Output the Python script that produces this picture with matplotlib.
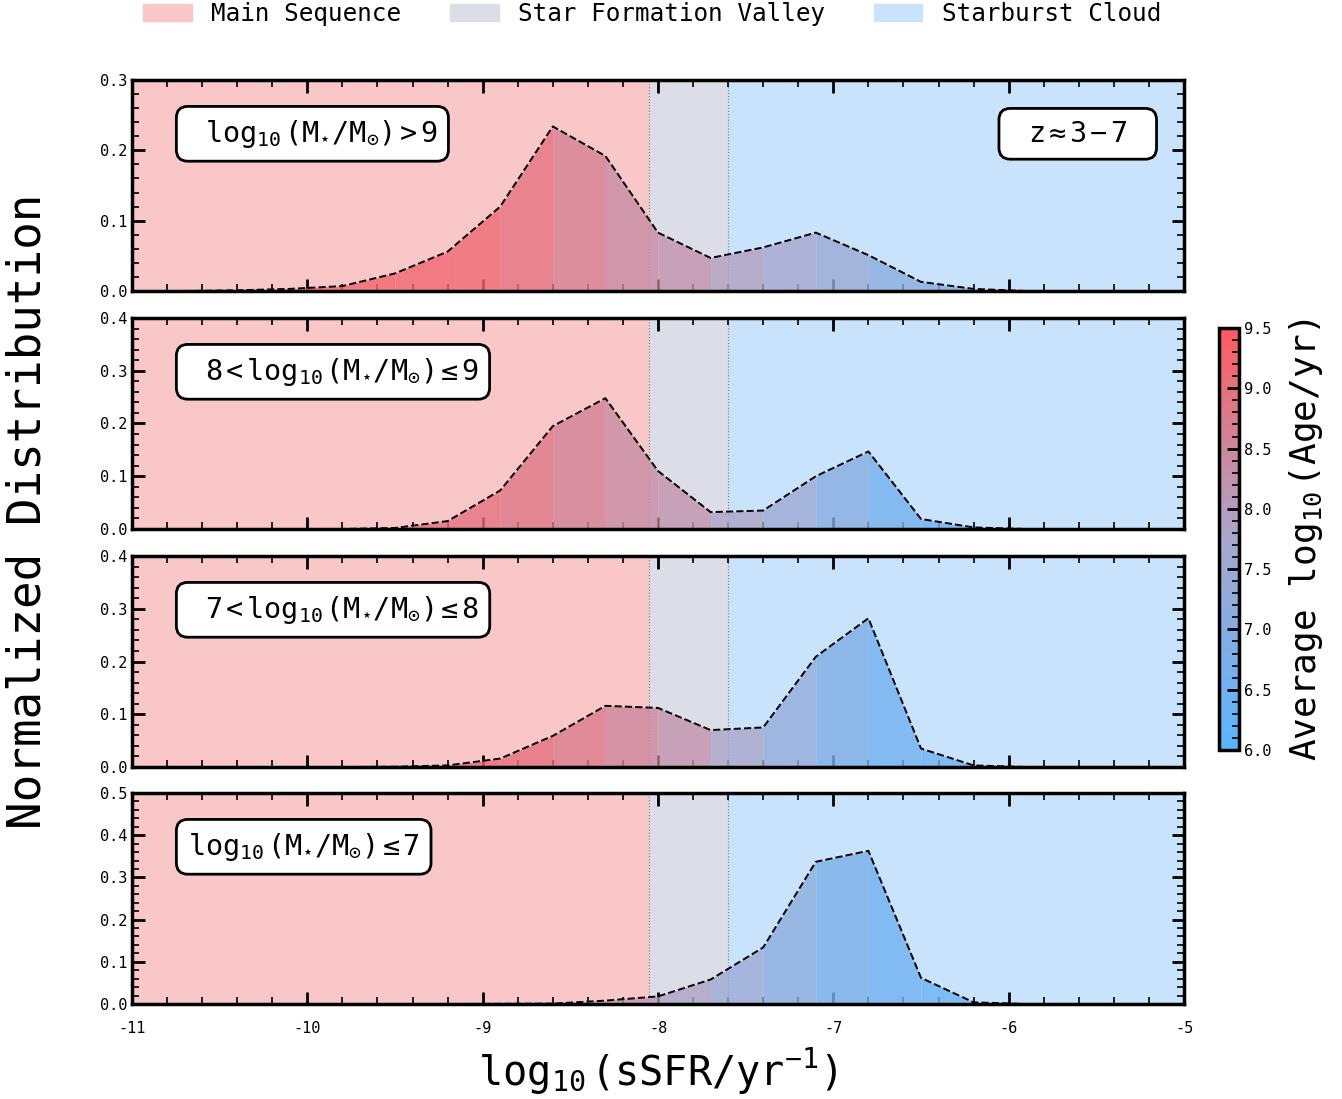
import numpy as np
import matplotlib
matplotlib.use("Agg")
import matplotlib.pyplot as plt
from matplotlib.colors import LinearSegmentedColormap, Normalize
from matplotlib.patches import Patch
from matplotlib.ticker import MultipleLocator

plt.rcParams['font.family'] = ['DejaVu Sans Mono', 'DejaVu Sans']
plt.rcParams['axes.unicode_minus'] = False
plt.rcParams['mathtext.fontset'] = 'custom'
plt.rcParams['mathtext.rm'] = 'DejaVu Sans Mono'
plt.rcParams['mathtext.it'] = 'DejaVu Sans Mono'
plt.rcParams['mathtext.bf'] = 'DejaVu Sans Mono:bold'

# bin centres of log10(sSFR)
ssfr = [-10.7, -10.4, -10.1, -9.8, -9.5, -9.2, -8.9, -8.6, -8.3, -8.0,
        -7.7, -7.4, -7.1, -6.8, -6.5, -6.2, -5.9, -5.6, -5.3, -5.0]

# normalized distributions, one per mass bin (top to bottom)
dist_hi = [0.0, 0.001, 0.003, 0.007, 0.025, 0.056, 0.120, 0.234, 0.192, 0.083,
           0.047, 0.062, 0.083, 0.051, 0.013, 0.003, 0.0, 0.0, 0.0, 0.0]
dist_89 = [0.0, 0.0, 0.0, 0.0, 0.002, 0.015, 0.073, 0.195, 0.248, 0.110,
           0.032, 0.035, 0.100, 0.147, 0.019, 0.003, 0.0, 0.0, 0.0, 0.0]
dist_78 = [0.0, 0.0, 0.0, 0.0, 0.0005, 0.003, 0.016, 0.059, 0.116, 0.112,
           0.070, 0.075, 0.209, 0.282, 0.035, 0.003, 0.0, 0.0, 0.0, 0.0]
dist_lo = [0.0, 0.0, 0.0, 0.0, 0.0, 0.0, 0.0005, 0.001, 0.008, 0.018,
           0.058, 0.134, 0.337, 0.363, 0.062, 0.004, 0.0, 0.0, 0.0, 0.0]

# average log10(age) of each segment between neighbouring bins
age_hi = [9.4, 9.4, 9.3, 9.25, 9.2, 9.15, 8.95, 8.65, 8.4, 8.25,
          7.95, 7.7, 7.45, 7.1, 6.9, 6.8, 6.8, 6.8, 6.8]
age_89 = [9.2, 9.2, 9.2, 9.2, 9.0, 8.95, 8.85, 8.6, 8.4, 8.25,
          7.85, 7.5, 7.05, 6.6, 6.5, 6.5, 6.5, 6.5, 6.5]
age_78 = [9.3, 9.3, 9.3, 9.3, 9.2, 9.15, 9.0, 8.75, 8.5, 8.25,
          7.8, 7.3, 6.85, 6.55, 6.4, 6.4, 6.4, 6.4, 6.4]
age_lo = [8.3, 8.3, 8.3, 8.3, 8.3, 8.3, 8.25, 8.2, 8.15, 7.85,
          7.5, 7.15, 6.75, 6.5, 6.4, 6.4, 6.4, 6.4, 6.4]

mass_labels = [r' $\log_{10}(M_{\star}/M_{\odot})>9$',
               r' $8<\log_{10}(M_{\star}/M_{\odot})\leq9$',
               r' $7<\log_{10}(M_{\star}/M_{\odot})\leq8$',
               r'$\log_{10}(M_{\star}/M_{\odot})\leq7$']
z_label = r'$z\approx3-7$'
ymax = [0.3, 0.4, 0.4, 0.5]

region_names = ['Main Sequence', 'Star Formation Valley', 'Starburst Cloud']
region_edges = [-11, -8.05, -7.6, -5]
region_colors = ['#F9C7C8', '#DDDDE7', '#CAE3FC']

cmap = LinearSegmentedColormap.from_list('age', ['#5AB4FF', '#A8A8CC', '#FF5A5F'])
norm = Normalize(6.0, 9.5)

dists = [dist_hi, dist_89, dist_78, dist_lo]
ages = [age_hi, age_89, age_78, age_lo]

fig = plt.figure(figsize=(13.42, 10.99), dpi=100)
left, width = 132 / 1342, 1052 / 1342
tops = [80, 318, 556, 793]
axes = []
for i in range(4):
    bottom = 1 - (tops[i] + 211) / 1099
    ax = fig.add_axes([left, bottom, width, 211 / 1099])
    axes.append(ax)

    for j in range(3):
        ax.axvspan(region_edges[j], region_edges[j + 1], color=region_colors[j], lw=0, zorder=0)
    for xv in region_edges[1:3]:
        ax.axvline(xv, color='gray', ls=':', lw=0.8, zorder=1)

    x = np.array(ssfr)
    y = np.array(dists[i])
    for k in range(len(x) - 1):
        ax.fill_between(x[k:k + 2], y[k:k + 2], 0, color=cmap(norm(ages[i][k])),
                        alpha=0.8, lw=0, zorder=2)
    ax.plot(x, y, color='k', ls='--', lw=1.4, zorder=3)

    ax.set_xlim(-11, -5)
    ax.set_ylim(0, ymax[i])
    ax.xaxis.set_major_locator(MultipleLocator(1))
    ax.xaxis.set_minor_locator(MultipleLocator(0.2))
    ax.yaxis.set_major_locator(MultipleLocator(0.1))
    ax.yaxis.set_minor_locator(MultipleLocator(0.02))
    ax.tick_params(which='both', direction='in', top=True, right=True, labelsize=11)
    ax.tick_params(which='major', length=9, width=2)
    ax.tick_params(which='minor', length=5, width=1.2)
    ax.tick_params(axis='x', pad=12)
    for s in ax.spines.values():
        s.set_linewidth(2.5)
    if i < 3:
        ax.tick_params(labelbottom=False)

    ax.text(0.053, 0.745, mass_labels[i], transform=ax.transAxes, fontsize=20.5,
            ha='left', va='center', zorder=5,
            bbox=dict(boxstyle='round,pad=0.4', fc='white', ec='black', lw=2))

# redshift box: an invisible wider string sizes the box, the label sits centred on it
axes[0].text(0.899, 0.745, 'x' + z_label + 'x', transform=axes[0].transAxes, fontsize=20.5,
             ha='center', va='center', zorder=5, color=(0, 0, 0, 0),
             bbox=dict(boxstyle='round,pad=0.4', fc='white', ec='black', lw=2))
axes[0].text(0.899, 0.745, z_label, transform=axes[0].transAxes, fontsize=20.5,
             ha='center', va='center', zorder=6)

axes[3].set_xlabel(r'$\log_{10}(\mathrm{sSFR/yr^{-1}})$', fontsize=29, labelpad=8)
fig.text(0.021, 0.535, 'Normalized Distribution', rotation=90, fontsize=33,
         ha='center', va='center')

handles = [Patch(color=c, label=n) for c, n in zip(region_colors, region_names)]
fig.legend(handles=handles, loc='upper center', bbox_to_anchor=(0.486, 1.007), ncol=3,
           frameon=False, fontsize=17.5, handlelength=2.0, handletextpad=0.8,
           columnspacing=2.0, borderaxespad=0)

cax = fig.add_axes([1219 / 1342, 1 - 750 / 1099, 20 / 1342, 422 / 1099])
sm = plt.cm.ScalarMappable(norm=norm, cmap=cmap)
cb = fig.colorbar(sm, cax=cax)
cb.set_ticks(np.arange(6.0, 9.51, 0.5))
cb.ax.yaxis.set_minor_locator(MultipleLocator(0.1))
cb.ax.tick_params(which='both', direction='in', labelsize=11)
cb.ax.tick_params(which='major', length=9, width=2)
cb.ax.tick_params(which='minor', length=5, width=1.2)
cb.outline.set_linewidth(2.5)
cb.set_label(r'Average $\log_{10}$(Age/yr)', fontsize=26, labelpad=11)

fig.savefig('out.png', dpi=100)
